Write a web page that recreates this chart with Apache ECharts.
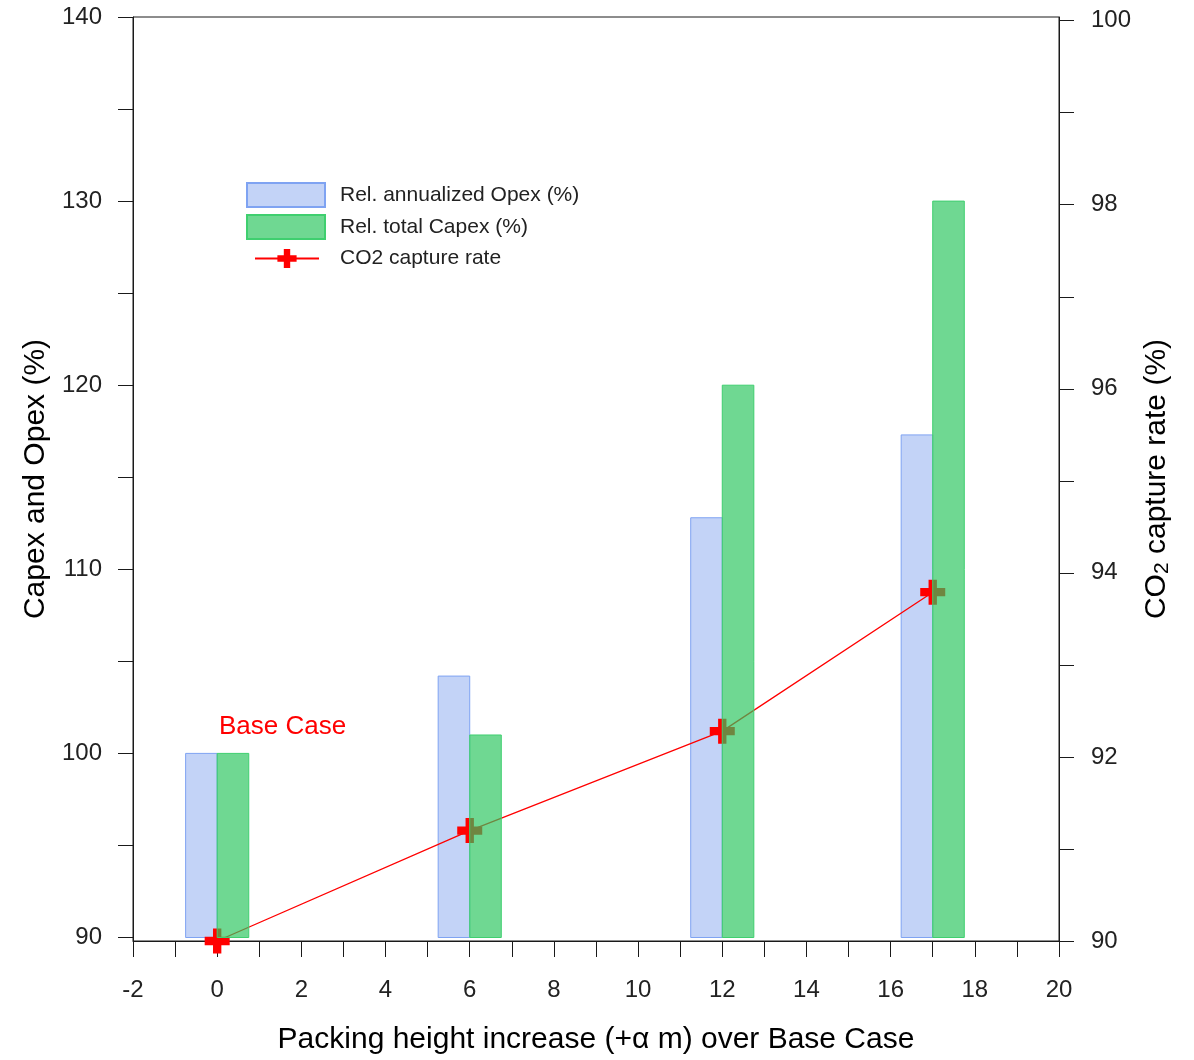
<!DOCTYPE html>
<html>
<head>
<meta charset="utf-8">
<script src="https://cdn.jsdelivr.net/npm/echarts@6/dist/echarts.min.js"></script>
<style>
html,body{margin:0;padding:0;background:#fff;}
#chart{width:1194px;height:1060px;}
</style>
</head>
<body>
<div id="chart"></div>
<script>
// ---- data ----
var heights = [0, 6, 12, 17];
var opexValues = [100, 104.2, 112.8, 117.3];
var capexValues = [100, 101, 120, 130];
var co2Values = [90, 91.2, 92.28, 93.79];
var leftLabels = [90, 100, 110, 120, 130, 140];
var leftTickValues = [90, 95, 100, 105, 110, 115, 120, 125, 130, 135, 140];
var rightLabels = [90, 92, 94, 96, 98, 100];
var rightTickValues = [90, 91, 92, 93, 94, 95, 96, 97, 98, 99, 100];
var xTicks = [-2, 0, 2, 4, 6, 8, 10, 12, 14, 16, 18, 20];

var FONT = '"Liberation Sans", Arial, sans-serif';
var BAR_W = 0.75;
var BASE = 90;
// axis extents (the two value axes are slightly offset against each other in the original plot)
var LEFT_MIN = 89.81, LEFT_MAX = 140;
var RIGHT_MIN = 90, RIGHT_MAX = 100.04;

function pairs(xs, ys){ return xs.map(function(x,i){ return [x, ys[i]]; }); }

function barRender(side){
  return function(params, api){
    var x = api.value(0), v = api.value(1);
    var x0 = side === 'left' ? x - BAR_W : x;
    var x1 = side === 'left' ? x : x + BAR_W;
    var p0 = api.coord([x0, v]);
    var p1 = api.coord([x1, BASE]);
    return {
      type: 'rect',
      shape: {x: p0[0], y: p0[1], width: p1[0] - p0[0], height: p1[1] - p0[1]},
      style: api.style()
    };
  };
}

var plusPath = 'path://M8,0 H16 V8 H24 V16 H16 V24 H8 V16 H0 V8 H8 Z';

var chart = echarts.init(document.getElementById('chart'), null, {renderer: 'canvas'});
var axisLineStyle = {color: '#1a1a1a', width: 1};
var labelColor = '#222';
var nameStyle = {color: '#000', fontSize: 30, fontFamily: FONT};

var option = {
  backgroundColor: '#fff',
  animation: false,
  grid: {left: 133, right: 135, top: 17, bottom: 113.5, containLabel: false,
    show: true, borderColor: '#1a1a1a', borderWidth: 1, backgroundColor: 'transparent'},
  legend: [{
    left: 246, top: 182, orient: 'vertical', padding: 0,
    itemWidth: 78, itemHeight: 24, itemGap: 6,
    textStyle: {color: '#222', fontSize: 21, fontFamily: FONT, padding: [0,0,0,10]},
    data: [
      {name: 'Rel. annualized Opex (%)', icon: 'rect'},
      {name: 'Rel. total Capex (%)', icon: 'rect'}
    ]
  }, {
    left: 254, top: 248, orient: 'vertical', padding: 0,
    itemWidth: 64, itemHeight: 24,
    textStyle: {color: '#222', fontSize: 21, fontFamily: FONT, padding: [0,0,0,16]},
    data: [{name: 'CO2 capture rate'}]
  }],
  xAxis: {
    type: 'value', min: -2, max: 20, interval: 2,
    name: 'Packing height increase (+\u03b1 m) over Base Case',
    nameLocation: 'middle', nameGap: 84, nameTextStyle: nameStyle,
    axisLine: {show: true, onZero: false, lineStyle: axisLineStyle},
    axisTick: {show: true, inside: false, length: 16, lineStyle: axisLineStyle},
    minorTick: {show: true, splitNumber: 2, length: 16, lineStyle: axisLineStyle},
    axisLabel: {margin: 37, color: labelColor, fontSize: 24, fontFamily: FONT,
      customValues: xTicks},
    splitLine: {show: false}
  },
  yAxis: [{
    type: 'value', min: LEFT_MIN, max: LEFT_MAX,
    name: 'Capex and Opex (%)', nameLocation: 'middle', nameGap: 80, nameRotate: 90,
    nameTextStyle: nameStyle,
    axisLine: {show: true, onZero: false, lineStyle: axisLineStyle},
    axisTick: {show: true, inside: false, length: 15, lineStyle: axisLineStyle,
      customValues: leftTickValues},
    axisLabel: {margin: 31, color: labelColor, fontSize: 24, fontFamily: FONT,
      customValues: leftLabels},
    splitLine: {show: false}
  }, {
    type: 'value', position: 'right', min: RIGHT_MIN, max: RIGHT_MAX,
    name: 'CO{s|2} capture rate (%)', nameLocation: 'middle', nameGap: 82, nameRotate: 90,
    nameTextStyle: {color: '#000', fontSize: 30, fontFamily: FONT,
      rich: {s: {fontSize: 21, fontFamily: FONT, color: '#000', verticalAlign: 'bottom', padding: [10,0,0,0]}}},
    axisLine: {show: true, onZero: false, lineStyle: axisLineStyle},
    axisTick: {show: true, inside: false, length: 15, lineStyle: axisLineStyle,
      customValues: rightTickValues},
    axisLabel: {margin: 32, color: labelColor, fontSize: 24, fontFamily: FONT,
      customValues: rightLabels},
    splitLine: {show: false}
  }],
  graphic: [{
    type: 'text', left: 219, top: 714, z: 10,
    style: {text: 'Base Case', fill: '#ff0000', fontSize: 26, fontFamily: FONT}
  }],
  series: [{
    name: 'Rel. annualized Opex (%)', type: 'custom', z: 1,
    xAxisIndex: 0, yAxisIndex: 0,
    renderItem: barRender('left'),
    itemStyle: {color: '#c3d3f7', borderColor: '#7fa3f2', borderWidth: 1},
    encode: {x: 0, y: 1},
    data: pairs(heights, opexValues)
  }, {
    name: 'CO2 capture rate', type: 'line', z: 3,
    xAxisIndex: 0, yAxisIndex: 1,
    symbol: plusPath, symbolSize: 25,
    lineStyle: {color: '#ff0000', width: 1.3},
    itemStyle: {color: '#ff0000'},
    data: pairs(heights, co2Values)
  }, {
    name: 'Rel. total Capex (%)', type: 'custom', z: 5,
    xAxisIndex: 0, yAxisIndex: 0,
    renderItem: barRender('right'),
    itemStyle: {color: 'rgba(43,198,94,0.68)', borderColor: '#3fcf6f', borderWidth: 1},
    encode: {x: 0, y: 1},
    data: pairs(heights, capexValues)
  }]
};
chart.setOption(option);
</script>
</body>
</html>
